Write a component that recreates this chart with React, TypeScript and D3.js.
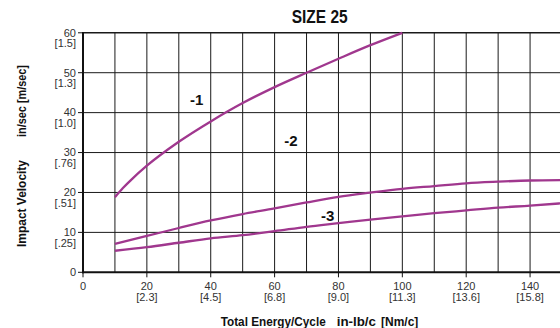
import React from "react";
import * as d3 from "d3";

const xTicks = [0, 20, 40, 60, 80, 100, 120, 140];
const xTickMetric = ["", "[2.3]", "[4.5]", "[6.8]", "[9.0]", "[11.3]", "[13.6]", "[15.8]"];
const yTicks = [0, 10, 20, 30, 40, 50, 60];
const yTickMetric = ["", "[.25]", "[.51]", "[.76]", "[1.0]", "[1.3]", "[1.5]"];

const energy1 = [10, 12.5, 15, 20, 30, 40, 50, 60, 70, 80, 90, 100];
const velocity1 = [18.8, 21.1, 23.1, 26.7, 32.7, 37.8, 42.4, 46.4, 50.0, 53.5, 56.9, 60];
const energy2 = [10, 20, 30, 40, 50, 60, 70, 80, 90, 100, 110, 120, 130, 140, 150];
const velocity2 = [7.1, 9.1, 11.1, 13.0, 14.6, 16.0, 17.5, 18.9, 19.95, 20.9, 21.6, 22.3, 22.7, 23.0, 23.1];
const energy3 = [10, 20, 30, 40, 50, 60, 70, 80, 90, 100, 110, 120, 130, 140, 150];
const velocity3 = [5.4, 6.3, 7.4, 8.5, 9.3, 10.3, 11.4, 12.3, 13.2, 14.0, 14.8, 15.5, 16.2, 16.7, 17.3];
const curveLabels = ["-1", "-2", "-3"];
const labelX = [33.5, 63, 74.5];
const labelY = [41.9, 31.7, 12.8];

const W = 560;
const H = 328;
const x = d3.scaleLinear().domain([0, 150]).range([83, 562]);
const y = d3.scaleLinear().domain([0, 60]).range([272.3, 32.8]);
const gridX = d3.range(10, 151, 10);
const gridY = d3.range(10, 61, 10);

const line = d3
  .line<[number, number]>()
  .x((d) => x(d[0]))
  .y((d) => y(d[1]))
  .curve(d3.curveMonotoneX);

const series = [
  energy1.map((e, i) => [e, velocity1[i]] as [number, number]),
  energy2.map((e, i) => [e, velocity2[i]] as [number, number]),
  energy3.map((e, i) => [e, velocity3[i]] as [number, number]),
];

const FONT = "'Liberation Sans', Arial, sans-serif";
const PURPLE = "#a0378e";

export default function App() {
  return (
    <svg
      width={W}
      height={H}
      style={{ position: "absolute", left: 0, top: 0, background: "#fff" }}
      fontFamily={FONT}
    >
      <rect x={0} y={0} width={W} height={H} fill="#fff" />
      {/* grid */}
      {gridX.map((v) => (
        <line key={"gx" + v} x1={x(v)} x2={x(v)} y1={y(60)} y2={y(0)} stroke="#1a1a1a" strokeWidth={1} />
      ))}
      {gridY.map((v) => (
        <line key={"gy" + v} x1={x(0)} x2={W} y1={y(v)} y2={y(v)} stroke="#1a1a1a" strokeWidth={v === 60 ? 1.6 : 1} />
      ))}
      {/* axes */}
      <line x1={x(0)} x2={x(0)} y1={y(60) - 0.8} y2={y(0) + 1} stroke="#111" strokeWidth={2} />
      <line x1={x(0) - 1} x2={W} y1={y(0)} y2={y(0)} stroke="#111" strokeWidth={2} />
      {/* y ticks */}
      {yTicks.map((v, i) => (
        <g key={"yt" + v}>
          <line x1={x(0) - 5} x2={x(0)} y1={y(v)} y2={y(v)} stroke="#111" strokeWidth={1} />
          <text x={76} y={y(v) + 3.8} textAnchor="end" fontSize={11} fill="#333">
            {v}
          </text>
          {yTickMetric[i] && (
            <text x={76} y={y(v) + 14.3} textAnchor="end" fontSize={11} fill="#333">
              {yTickMetric[i]}
            </text>
          )}
        </g>
      ))}
      {/* x ticks */}
      {xTicks.map((v, i) => (
        <g key={"xt" + v}>
          <line x1={x(v)} x2={x(v)} y1={y(0)} y2={y(0) + 5} stroke="#111" strokeWidth={1} />
          <text x={x(v)} y={290} textAnchor="middle" fontSize={11} fill="#333">
            {v}
          </text>
          {xTickMetric[i] && (
            <text x={x(v)} y={301} textAnchor="middle" fontSize={11} fill="#333">
              {xTickMetric[i]}
            </text>
          )}
        </g>
      ))}
      {/* curves */}
      {series.map((s, i) => (
        <path key={"s" + i} d={line(s) || ""} fill="none" stroke={PURPLE} strokeWidth={2.3} />
      ))}
      {curveLabels.map((t, i) => (
        <text key={"cl" + i} x={x(labelX[i])} y={y(labelY[i])} fontSize={15} fontWeight={600} fill="#111">
          {t}
        </text>
      ))}
      {/* title */}
      <text x={291.7} y={22.7} fontSize={17.5} fontWeight="bold" fill="#111" textLength={56} lengthAdjust="spacingAndGlyphs">
        SIZE 25
      </text>
      {/* x label */}
      <text x={220.7} y={325.5} fontSize={13} fontWeight="bold" fill="#111" textLength={105} lengthAdjust="spacingAndGlyphs">
        Total Energy/Cycle
      </text>
      <text x={336.7} y={325.5} fontSize={13} fontWeight="bold" fill="#111" textLength={39.3} lengthAdjust="spacingAndGlyphs">
        in-lb/c
      </text>
      <text x={381} y={325.5} fontSize={13} fontWeight="bold" fill="#111" textLength={37.3} lengthAdjust="spacingAndGlyphs">
        [Nm/c]
      </text>
      {/* y label */}
      <text
        transform="translate(26,247) rotate(-90)"
        x={0}
        y={0}
        fontSize={12.5}
        fontWeight="bold"
        fill="#111"
        textLength={87}
        lengthAdjust="spacingAndGlyphs"
      >
        Impact Velocity
      </text>
      <text
        transform="translate(26,137) rotate(-90)"
        x={0}
        y={0}
        fontSize={12.5}
        fontWeight="bold"
        fill="#111"
        textLength={72}
        lengthAdjust="spacingAndGlyphs"
      >
        in/sec [m/sec]
      </text>
    </svg>
  );
}
